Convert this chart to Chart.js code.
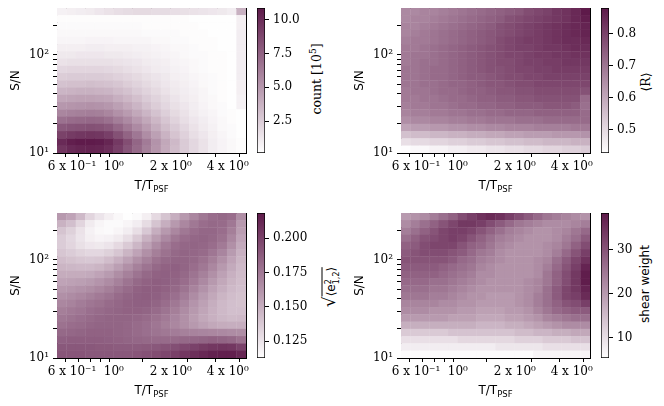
<!DOCTYPE html>
<html>
<head>
<meta charset="utf-8">
<script src="https://cdn.jsdelivr.net/npm/chart.js@4.4.1/dist/chart.umd.min.js"></script>
<style>
  body { margin: 0; background: #fff; width: 664px; height: 406px; overflow: hidden; position: relative; }
  canvas { position: absolute; }
  .cblabel { position: absolute; transform: translate(-50%, -50%) rotate(-90deg); white-space: nowrap;
             font: 12.5px "DejaVu Serif"; color: #000; line-height: 14px; }
  .sans { font-family: "DejaVu Sans"; font-size: 12px; }
  .rad { font-size: 17px; }
  .ov { border-top: 1px solid #000; padding-top: 1px; }
  .ix { display: inline-block; font-size: 8px; line-height: 8px; vertical-align: -4px; }
  .ix span { display: block; }
</style>
</head>
<body>
<div class="cblabel" style="left:315px; top:79px;">count [10<sup style="font-size:9px">5</sup>]</div>
<div class="cblabel" style="left:646px; top:82px;">⟨R⟩</div>
<div class="cblabel sans" style="left:331px; top:287px;"><span class="rad">√</span><span class="ov">⟨e<span class="ix"><span>2</span><span>1,2</span></span>⟩</span></div>
<div class="cblabel sans" style="left:645px; top:284px;">shear weight</div>
<script>
// axes
const X_MIN = 0.5, X_MAX = 5;
const Y_MIN = 10, Y_MAX = 300;
const X_TICKS = [0.6, 0.7, 0.8, 0.9, 1, 2, 3, 4];
const X_TICK_TEXT = ['6 x 10⁻¹', '', '', '', '10⁰', '2 x 10⁰', '', '4 x 10⁰'];
const Y_TICKS = [10, 20, 30, 40, 50, 60, 70, 80, 90, 100, 200];
const Y_TICK_TEXT = ['10¹', '', '', '', '', '', '', '', '', '10²', ''];
const X_TITLE = ['T/T', 'PSF'];
const Y_TITLE = 'S/N';

// 20 x 20 grids, rows listed from highest S/N (top) to lowest (bottom)
const countRows = [
  [0.8,0.9,1.0,1.1,1.3,1.5,1.7,1.8,1.9,1.9,1.8,1.8,1.7,1.6,1.5,1.4,1.3,1.2,1.0,3.8],
  [0.3,0.3,0.3,0.3,0.3,0.3,0.3,0.3,0.3,0.3,0.3,0.3,0.3,0.3,0.2,0.2,0.2,0.2,0.2,0.9],
  [0.4,0.4,0.4,0.4,0.4,0.4,0.4,0.4,0.4,0.3,0.3,0.3,0.3,0.3,0.3,0.2,0.2,0.2,0.2,0.9],
  [0.5,0.5,0.5,0.5,0.5,0.5,0.5,0.5,0.5,0.4,0.4,0.4,0.4,0.3,0.3,0.3,0.2,0.2,0.2,1.0],
  [0.6,0.6,0.6,0.7,0.7,0.7,0.6,0.6,0.6,0.6,0.5,0.5,0.4,0.4,0.3,0.3,0.3,0.2,0.2,1.0],
  [0.9,0.9,0.9,1.0,1.0,0.9,0.9,0.9,0.8,0.8,0.7,0.6,0.5,0.5,0.4,0.3,0.3,0.2,0.2,1.0],
  [1.2,1.2,1.3,1.3,1.3,1.2,1.2,1.1,1.0,0.9,0.8,0.7,0.6,0.5,0.4,0.4,0.3,0.3,0.2,1.0],
  [1.5,1.6,1.6,1.6,1.6,1.6,1.5,1.4,1.3,1.1,1.0,0.9,0.7,0.6,0.5,0.4,0.3,0.3,0.2,1.0],
  [2.0,2.1,2.1,2.1,2.1,2.0,1.9,1.7,1.5,1.3,1.1,1.0,0.8,0.7,0.5,0.4,0.3,0.3,0.2,1.0],
  [2.5,2.6,2.6,2.6,2.6,2.5,2.3,2.1,1.9,1.6,1.4,1.2,0.9,0.8,0.6,0.5,0.4,0.3,0.2,1.0],
  [3.0,3.1,3.1,3.2,3.1,3.0,2.8,2.5,2.2,1.9,1.6,1.3,1.1,0.9,0.7,0.5,0.4,0.3,0.2,0.9],
  [3.6,3.7,3.8,3.8,3.7,3.6,3.3,3.0,2.6,2.2,1.9,1.5,1.2,1.0,0.8,0.6,0.4,0.3,0.2,0.9],
  [4.3,4.4,4.5,4.5,4.4,4.3,3.9,3.5,3.1,2.6,2.2,1.8,1.4,1.1,0.9,0.6,0.5,0.3,0.2,0.8],
  [5.0,5.1,5.2,5.3,5.2,5.0,4.6,4.1,3.6,3.0,2.5,2.0,1.6,1.3,1.0,0.7,0.5,0.4,0.2,0.8],
  [5.8,6.0,6.1,6.2,6.1,5.8,5.3,4.8,4.2,3.6,3.0,2.4,1.9,1.5,1.1,0.8,0.6,0.4,0.3,0.2],
  [6.8,7.0,7.1,7.2,7.1,6.8,6.2,5.6,4.9,4.2,3.5,2.8,2.2,1.7,1.3,1.0,0.7,0.5,0.3,0.2],
  [7.9,8.1,8.2,8.3,8.2,7.9,7.2,6.4,5.6,4.8,4.0,3.2,2.6,2.0,1.5,1.1,0.8,0.5,0.4,0.2],
  [9.0,9.3,9.5,9.6,9.5,9.1,8.3,7.4,6.5,5.5,4.6,3.7,2.9,2.3,1.7,1.3,0.9,0.6,0.4,0.2],
  [10.1,10.6,10.8,10.8,10.7,10.3,9.4,8.4,7.3,6.3,5.2,4.2,3.4,2.6,2.0,1.5,1.0,0.7,0.5,0.3],
  [9.6,10.1,10.3,10.4,10.3,9.9,9.1,8.1,7.1,6.1,5.1,4.1,3.3,2.6,2.0,1.5,1.0,0.7,0.5,0.3]
];

const respRows = [
  [.66,.66,.67,.67,.68,.69,.70,.71,.72,.73,.74,.75,.76,.78,.79,.80,.82,.83,.85,.88],
  [.66,.67,.67,.68,.69,.70,.71,.72,.73,.74,.75,.77,.78,.79,.80,.81,.82,.83,.85,.87],
  [.67,.67,.68,.69,.70,.71,.72,.73,.74,.75,.77,.78,.79,.80,.81,.82,.83,.84,.85,.86],
  [.67,.68,.69,.70,.71,.72,.73,.74,.75,.76,.77,.78,.79,.80,.81,.82,.83,.84,.85,.86],
  [.68,.69,.69,.70,.71,.72,.73,.74,.75,.76,.78,.79,.80,.81,.81,.82,.83,.84,.84,.85],
  [.69,.69,.70,.71,.72,.73,.74,.75,.76,.77,.78,.79,.80,.80,.81,.82,.82,.83,.84,.84],
  [.69,.70,.70,.71,.72,.73,.74,.75,.76,.77,.78,.79,.79,.80,.81,.81,.82,.82,.83,.83],
  [.69,.70,.71,.71,.72,.73,.74,.75,.76,.77,.78,.78,.79,.80,.80,.81,.81,.82,.82,.82],
  [.70,.70,.71,.72,.72,.73,.74,.75,.76,.77,.77,.78,.79,.79,.80,.80,.81,.81,.81,.81],
  [.70,.70,.71,.72,.72,.73,.74,.75,.75,.76,.77,.78,.78,.79,.79,.80,.80,.80,.80,.80],
  [.70,.70,.71,.71,.72,.73,.73,.74,.75,.76,.76,.77,.78,.78,.79,.79,.79,.79,.79,.79],
  [.69,.70,.70,.71,.72,.72,.73,.74,.74,.75,.76,.76,.77,.77,.78,.78,.78,.78,.78,.77],
  [.69,.69,.70,.70,.71,.72,.72,.73,.74,.74,.75,.75,.76,.76,.77,.77,.77,.77,.77,.72],
  [.68,.69,.69,.70,.70,.71,.72,.72,.73,.73,.74,.74,.75,.75,.75,.76,.76,.76,.75,.71],
  [.67,.68,.68,.69,.69,.70,.70,.71,.71,.72,.72,.73,.73,.73,.74,.74,.74,.74,.74,.72],
  [.65,.66,.66,.67,.67,.68,.68,.69,.69,.70,.70,.70,.71,.71,.71,.72,.72,.72,.72,.72],
  [.61,.62,.62,.63,.63,.64,.64,.65,.65,.66,.66,.67,.67,.67,.68,.68,.68,.68,.69,.69],
  [.55,.56,.56,.57,.57,.58,.58,.59,.59,.60,.60,.61,.61,.62,.62,.62,.63,.63,.63,.64],
  [.49,.50,.50,.51,.51,.52,.52,.53,.53,.54,.54,.55,.55,.56,.56,.57,.57,.57,.58,.58],
  [.43,.44,.44,.45,.45,.46,.46,.47,.47,.48,.48,.49,.49,.50,.50,.51,.51,.52,.52,.53]
];

const ellipRows = [
  [.160,.155,.145,.132,.125,.120,.116,.113,.115,.120,.130,.140,.150,.160,.168,.175,.180,.182,.180,.165],
  [.148,.142,.132,.122,.117,.115,.115,.117,.121,.129,.140,.150,.160,.168,.175,.180,.182,.181,.175,.160],
  [.140,.134,.126,.119,.116,.115,.117,.121,.128,.138,.150,.160,.168,.175,.180,.183,.183,.180,.172,.158],
  [.136,.131,.125,.120,.118,.119,.122,.128,.137,.148,.158,.167,.175,.180,.183,.184,.182,.178,.168,.155],
  [.136,.132,.127,.124,.123,.125,.130,.137,.146,.156,.166,.174,.180,.183,.184,.183,.180,.174,.164,.152],
  [.139,.136,.133,.131,.131,.134,.139,.147,.155,.164,.172,.178,.182,.184,.183,.181,.176,.169,.159,.149],
  [.143,.141,.139,.138,.139,.143,.149,.156,.164,.171,.178,.182,.184,.184,.182,.178,.172,.164,.155,.147],
  [.147,.146,.145,.145,.147,.151,.157,.164,.171,.177,.182,.185,.186,.184,.180,.175,.168,.160,.152,.145],
  [.151,.151,.151,.152,.155,.159,.165,.171,.177,.182,.185,.186,.185,.182,.177,.171,.164,.156,.149,.144],
  [.155,.156,.157,.159,.162,.166,.171,.177,.182,.185,.187,.186,.184,.180,.174,.167,.160,.153,.147,.143],
  [.160,.161,.163,.165,.168,.172,.177,.181,.185,.187,.187,.185,.182,.177,.170,.163,.156,.150,.145,.142],
  [.164,.166,.168,.171,.174,.177,.181,.184,.186,.187,.186,.183,.179,.173,.166,.159,.153,.147,.143,.141],
  [.168,.170,.173,.176,.178,.181,.183,.185,.186,.186,.184,.180,.175,.169,.162,.156,.150,.145,.142,.141],
  [.172,.174,.176,.179,.181,.183,.184,.185,.185,.184,.181,.177,.172,.166,.160,.154,.149,.145,.142,.142],
  [.175,.177,.179,.181,.183,.184,.184,.184,.183,.181,.178,.174,.169,.164,.158,.153,.149,.146,.144,.145],
  [.178,.180,.181,.183,.184,.184,.184,.183,.181,.179,.176,.172,.168,.164,.160,.156,.153,.151,.150,.150],
  [.182,.183,.184,.185,.185,.185,.184,.183,.181,.179,.177,.175,.173,.171,.170,.169,.168,.167,.166,.165],
  [.186,.187,.187,.187,.187,.186,.185,.184,.183,.182,.181,.181,.181,.182,.183,.184,.185,.184,.182,.178],
  [.190,.190,.190,.190,.189,.189,.188,.188,.188,.189,.190,.192,.194,.197,.200,.203,.205,.206,.205,.200],
  [.191,.191,.191,.190,.190,.190,.190,.190,.191,.193,.195,.198,.201,.205,.209,.212,.215,.216,.216,.212]
];

const weightRows = [
  [20,21,22,24,26,28,31,33,35,36,35,33,31,29,27,25,24,23,22,21],
  [22,24,26,28,30,32,34,34,33,31,29,27,25,24,23,22,22,22,23,24],
  [24,26,28,30,32,33,33,32,30,28,26,24,23,22,21,21,22,23,25,27],
  [26,28,30,31,32,33,32,30,28,26,24,23,22,21,21,21,22,24,26,29],
  [28,29,31,32,32,32,30,28,27,25,23,22,21,21,21,22,23,25,28,31],
  [29,30,31,31,31,30,29,27,25,24,22,21,21,21,21,22,24,27,30,33],
  [30,30,30,30,30,29,27,26,24,23,22,21,21,21,22,23,26,29,32,35],
  [29,29,29,29,28,27,26,25,23,22,21,21,21,21,22,24,27,30,33,37],
  [28,28,28,28,27,26,25,24,22,22,21,21,21,21,22,25,28,31,34,38],
  [27,27,27,26,26,25,24,23,22,21,21,21,21,22,23,25,28,31,34,38],
  [26,26,26,25,25,24,23,22,21,21,21,21,21,22,23,26,29,32,34,37],
  [25,25,25,24,24,23,22,21,21,20,20,20,21,22,24,26,29,32,33,36],
  [23,23,23,23,22,22,21,21,20,20,20,20,21,22,24,26,28,30,31,33],
  [22,22,22,21,21,21,20,20,19,19,19,20,20,21,23,25,27,28,29,29],
  [20,20,20,20,20,19,19,19,18,18,18,19,19,20,21,23,24,25,26,26],
  [17,17,17,17,17,17,17,17,16,16,16,17,17,18,19,20,21,22,22,22],
  [13,13,13,13,13,14,14,14,14,14,14,14,15,15,16,16,17,17,18,18],
  [10,10,10,10,10,10,11,11,11,11,11,11,12,12,12,13,13,13,14,14],
  [8,8,8,8,8,8,8,8,8,8,9,9,9,9,9,10,10,10,10,10],
  [6,6,6,6,6,6,6,6,6,6,6,6,6,6,7,7,7,7,7,7]
];

// colour bar ranges and ticks
const countRange = [0.15, 10.85], countTicks = [2.5, 5, 7.5, 10];
const respRange = [0.427, 0.880], respTicks = [0.5, 0.6, 0.7, 0.8];
const ellipRange = [0.1126, 0.2185], ellipTicks = [0.125, 0.15, 0.175, 0.2];
const weightRange = [5.4, 38.4], weightTicks = [10, 20, 30];

const LOW = [255, 255, 255];
const HIGH = [94, 26, 74];

Chart.defaults.font.family = '"DejaVu Serif"';
Chart.defaults.font.size = 12;
Chart.defaults.color = '#000';

function shade(t) {
    t = Math.min(1, Math.max(0, t));
    const c = LOW.map((l, i) => Math.round(l + (HIGH[i] - l) * t));
    return `rgb(${c[0]}, ${c[1]}, ${c[2]})`;
}

function makeCanvas(left, top, w, h) {
    const cv = document.createElement('canvas');
    cv.width = w;
    cv.height = h;
    cv.style.left = left + 'px';
    cv.style.top = top + 'px';
    document.body.appendChild(cv);
    return cv;
}

// x axis title with a subscript
const xTitlePlugin = {
    id: 'xTitle',
    afterDraw(chart) {
        const { ctx, chartArea } = chart;
        ctx.save();
        ctx.fillStyle = '#000';
        ctx.textBaseline = 'alphabetic';
        ctx.textAlign = 'left';
        ctx.font = '12px "DejaVu Sans"';
        const w1 = ctx.measureText(X_TITLE[0]).width;
        ctx.font = '8.5px "DejaVu Sans"';
        const w2 = ctx.measureText(X_TITLE[1]).width;
        const x0 = (chartArea.left + chartArea.right) / 2 - (w1 + w2) / 2;
        const base = chartArea.bottom + 36;
        ctx.font = '12px "DejaVu Sans"';
        ctx.fillText(X_TITLE[0], x0, base);
        ctx.font = '8.5px "DejaVu Sans"';
        ctx.fillText(X_TITLE[1], x0 + w1, base + 2.5);
        ctx.restore();
    }
};

function drawMap(plotLeft, plotTop, rows, range) {
    const cv = makeCanvas(plotLeft - 57, plotTop - 8, 57 + 189 + 20, 8 + 145 + 47);
    const nRows = rows.length, nCols = rows[0].length;
    const cells = [];
    const colors = [];
    rows.forEach((row, t) => {
        const r = nRows - 1 - t;
        row.forEach((v, c) => {
            cells.push({ x: c + 0.5, y: [r, r + 1] });
            colors.push(shade((v - range[0]) / (range[1] - range[0])));
        });
    });

    new Chart(cv, {
        type: 'bar',
        data: {
            datasets: [{
                data: cells,
                backgroundColor: colors,
                borderWidth: 0,
                inflateAmount: 0.2,
                barPercentage: 1,
                categoryPercentage: 1,
                xAxisID: 'xi',
                yAxisID: 'yi'
            }]
        },
        options: {
            responsive: false,
            animation: false,
            events: [],
            layout: { padding: { left: 0, top: 8, right: 20, bottom: 0 } },
            plugins: { legend: { display: false }, tooltip: { enabled: false } },
            scales: {
                xi: {
                    type: 'linear', axis: 'x', position: 'top', min: 0, max: nCols,
                    offset: false,
                    ticks: { display: false },
                    grid: { display: false, drawTicks: false, offset: false },
                    border: { display: true, color: '#000', width: 1 },
                    afterFit: s => { s.height = 0; }
                },
                yi: {
                    type: 'linear', axis: 'y', position: 'right', min: 0, max: nRows,
                    offset: false,
                    ticks: { display: false },
                    grid: { display: false, drawTicks: false },
                    border: { display: true, color: '#000', width: 1 },
                    afterFit: s => { s.width = 0; }
                },
                x: {
                    type: 'logarithmic', position: 'bottom', min: X_MIN, max: X_MAX,
                    afterBuildTicks: s => { s.ticks = X_TICKS.map(v => ({ value: v })); },
                    ticks: {
                        autoSkip: false, maxRotation: 0, minRotation: 0, padding: 3,
                        color: '#000',
                        callback: (v, i) => X_TICK_TEXT[i]
                    },
                    grid: { drawOnChartArea: false, tickLength: 4, tickColor: '#000' },
                    border: { display: true, color: '#000', width: 1 },
                    afterFit: s => { s.height = 47; s.paddingLeft = 0; s.paddingRight = 0; }
                },
                y: {
                    type: 'logarithmic', position: 'left', min: Y_MIN, max: Y_MAX,
                    afterBuildTicks: s => { s.ticks = Y_TICKS.map(v => ({ value: v })); },
                    ticks: {
                        autoSkip: false, padding: 4, color: '#000',
                        callback: (v, i) => Y_TICK_TEXT[i]
                    },
                    title: {
                        display: true, text: Y_TITLE, color: '#000',
                        font: { family: '"DejaVu Sans"', size: 12 },
                        padding: { top: 9, bottom: 0 }
                    },
                    grid: { drawOnChartArea: false, tickLength: 4, tickColor: '#000' },
                    border: { display: true, color: '#000', width: 1 },
                    afterFit: s => { s.width = 57; s.paddingTop = 0; s.paddingBottom = 0; }
                }
            }
        },
        plugins: [xTitlePlugin]
    });
}

function drawColorbar(barLeft, plotTop, range, ticks, decimals) {
    const cv = makeCanvas(barLeft - 1, plotTop - 8, 1 + 8 + 45 + 2, 8 + 145 + 8);
    new Chart(cv, {
        type: 'bar',
        data: {
            labels: [''],
            datasets: [{
                data: [[range[0], range[1]]],
                backgroundColor: ctx => {
                    const area = ctx.chart.chartArea;
                    if (!area) return shade(0.5);
                    const g = ctx.chart.ctx.createLinearGradient(0, area.bottom, 0, area.top);
                    g.addColorStop(0, shade(0));
                    g.addColorStop(1, shade(1));
                    return g;
                },
                borderColor: '#000',
                borderWidth: 1,
                borderSkipped: false,
                barPercentage: 1,
                categoryPercentage: 1
            }]
        },
        options: {
            responsive: false,
            animation: false,
            events: [],
            layout: { padding: { left: 1, top: 8, right: 2, bottom: 8 } },
            plugins: { legend: { display: false }, tooltip: { enabled: false } },
            scales: {
                x: { display: false },
                y: {
                    position: 'right', min: range[0], max: range[1],
                    afterBuildTicks: s => { s.ticks = ticks.map(v => ({ value: v })); },
                    ticks: { padding: 4, color: '#000', callback: v => v.toFixed(decimals) },
                    grid: { drawOnChartArea: false, tickLength: 4, tickColor: '#000' },
                    border: { display: false },
                    afterFit: s => { s.width = 45; s.paddingTop = 0; s.paddingBottom = 0; }
                }
            }
        }
    });
}

drawMap(57, 8, countRows, countRange);
drawMap(401, 8, respRows, respRange);
drawMap(57, 213, ellipRows, ellipRange);
drawMap(401, 213, weightRows, weightRange);

drawColorbar(257, 8, countRange, countTicks, 1);
drawColorbar(601, 8, respRange, respTicks, 1);
drawColorbar(257, 213, ellipRange, ellipTicks, 3);
drawColorbar(601, 213, weightRange, weightTicks, 0);
</script>
</body>
</html>
